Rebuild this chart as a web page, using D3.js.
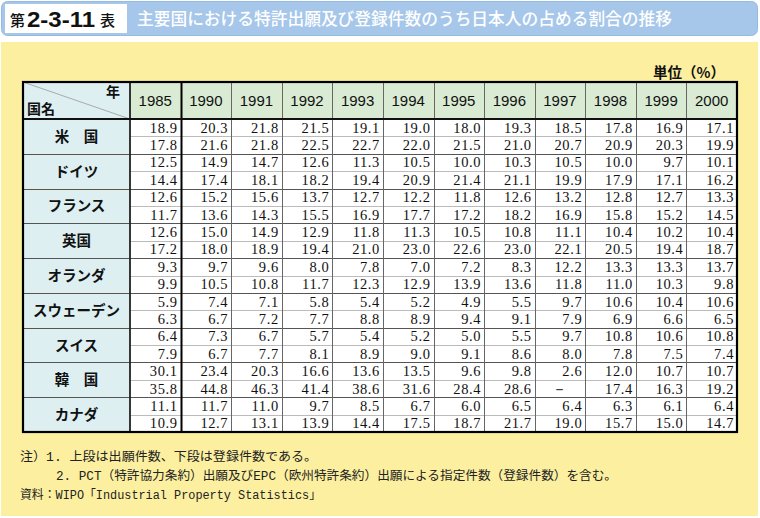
<!DOCTYPE html>
<html><head><meta charset="utf-8">
<script src="https://cdn.jsdelivr.net/npm/d3@7"></script>
<style>
body{margin:0;background:#fff;}
svg{display:block;}
</style></head>
<body>
<div id="chart"></div>
<script>
const years = ["1985","1990","1991","1992","1993","1994","1995","1996","1997","1998","1999","2000"];
const countries = ["米　国","ドイツ","フランス","英国","オランダ","スウェーデン","スイス","韓　国","カナダ"];
// 上段: 出願件数に占める日本人の割合 (%)
const applications = [
  [18.9,20.3,21.8,21.5,19.1,19.0,18.0,19.3,18.5,17.8,16.9,17.1],
  [12.5,14.9,14.7,12.6,11.3,10.5,10.0,10.3,10.5,10.0,9.7,10.1],
  [12.6,15.2,15.6,13.7,12.7,12.2,11.8,12.6,13.2,12.8,12.7,13.3],
  [12.6,15.0,14.9,12.9,11.8,11.3,10.5,10.8,11.1,10.4,10.2,10.4],
  [9.3,9.7,9.6,8.0,7.8,7.0,7.2,8.3,12.2,13.3,13.3,13.7],
  [5.9,7.4,7.1,5.8,5.4,5.2,4.9,5.5,9.7,10.6,10.4,10.6],
  [6.4,7.3,6.7,5.7,5.4,5.2,5.0,5.5,9.7,10.8,10.6,10.8],
  [30.1,23.4,20.3,16.6,13.6,13.5,9.6,9.8,2.6,12.0,10.7,10.7],
  [11.1,11.7,11.0,9.7,8.5,6.7,6.0,6.5,6.4,6.3,6.1,6.4]
];
// 下段: 登録件数に占める日本人の割合 (%)
const registrations = [
  [17.8,21.6,21.8,22.5,22.7,22.0,21.5,21.0,20.7,20.9,20.3,19.9],
  [14.4,17.4,18.1,18.2,19.4,20.9,21.4,21.1,19.9,17.9,17.1,16.2],
  [11.7,13.6,14.3,15.5,16.9,17.7,17.2,18.2,16.9,15.8,15.2,14.5],
  [17.2,18.0,18.9,19.4,21.0,23.0,22.6,23.0,22.1,20.5,19.4,18.7],
  [9.9,10.5,10.8,11.7,12.3,12.9,13.9,13.6,11.8,11.0,10.3,9.8],
  [6.3,6.7,7.2,7.7,8.8,8.9,9.4,9.1,7.9,6.9,6.6,6.5],
  [7.9,6.7,7.7,8.1,8.9,9.0,9.1,8.6,8.0,7.8,7.5,7.4],
  [35.8,44.8,46.3,41.4,38.6,31.6,28.4,28.6,null,17.4,16.3,19.2],
  [10.9,12.7,13.1,13.9,14.4,17.5,18.7,21.7,19.0,15.7,15.0,14.7]
];
const titleText = "主要国における特許出願及び登録件数のうち日本人の占める割合の推移";
const notes = [
  "注）1. 上段は出願件数、下段は登録件数である。",
  "2. PCT（特許協力条約）出願及びEPC（欧州特許条約）出願による指定件数（登録件数）を含む。",
  "資料：WIPO「Industrial Property Statistics」"
];

const W = 760, H = 518;
const svg = d3.select("#chart").append("svg").attr("width", W).attr("height", H);
const jp = "'Noto Sans CJK JP','Noto Sans',sans-serif";

// title bar
svg.append("rect").attr("x",1.5).attr("y",1.5).attr("width",756).attr("height",34).attr("rx",6)
  .attr("fill","#a6c7ea").attr("stroke","#96bbe2");
svg.append("rect").attr("x",5).attr("y",4).attr("width",122).attr("height",29).attr("fill","#fff");
const tb = svg.append("text").attr("y",26).attr("font-family",jp).attr("fill","#111");
tb.append("tspan").attr("x",10).attr("font-size",15).attr("font-weight",500).text("第");
svg.append("text").attr("x",27).attr("y",26.5).attr("font-size",22).attr("font-weight",700)
  .attr("font-family","'Liberation Sans',Arial,sans-serif").attr("fill","#111")
  .attr("textLength",68).attr("lengthAdjust","spacingAndGlyphs").text("2-3-11");
svg.append("text").attr("x",100).attr("y",26).attr("font-family",jp).attr("font-size",15).attr("font-weight",500).attr("fill","#111").text("表");
svg.append("text").attr("x",137).attr("y",25).attr("font-family",jp).attr("font-size",17)
  .attr("font-weight",500).attr("fill","#fff").attr("textLength",535).attr("lengthAdjust","spacingAndGlyphs").text(titleText);

// yellow panel
svg.append("rect").attr("x",1).attr("y",42).attr("width",757).attr("height",474).attr("fill","#fcf0a0");

// unit
svg.append("text").attr("x",725).attr("y",78).attr("text-anchor","end").attr("font-family",jp)
  .attr("font-size",14.5).attr("font-weight",700).attr("fill","#111").text("単位（%）");

// table geometry via scales
const tableLeft = 23, countryRight = 130, tableRight = 737;
const headTop = 82, headBottom = 119, tableBottom = 432;
const x = d3.scaleBand().domain(years).range([countryRight, tableRight]);
const rowIds = d3.range(countries.length * 2);
const y = d3.scaleBand().domain(rowIds).range([headBottom, tableBottom]);

const g = svg.append("g");
// header backgrounds
g.append("rect").attr("x",tableLeft).attr("y",headTop).attr("width",countryRight-tableLeft).attr("height",headBottom-headTop).attr("fill","#ddeff1");
g.selectAll("rect.yh").data(years).join("rect").attr("class","yh")
  .attr("x",d=>x(d)).attr("y",headTop).attr("width",x.bandwidth()).attr("height",headBottom-headTop).attr("fill","#d9ebd3");
// country cells
g.selectAll("rect.cc").data(countries).join("rect").attr("class","cc")
  .attr("x",tableLeft).attr("y",(d,i)=>y(i*2)).attr("width",countryRight-tableLeft).attr("height",y.bandwidth()*2).attr("fill","#ddeff1");
// data backgrounds
g.append("rect").attr("x",countryRight).attr("y",headBottom).attr("width",tableRight-countryRight).attr("height",tableBottom-headBottom).attr("fill","#fff");

// diagonal
g.append("line").attr("x1",tableLeft).attr("y1",headTop).attr("x2",countryRight).attr("y2",headBottom).attr("stroke","#999").attr("stroke-width",0.8);
g.append("text").attr("x",countryRight-10).attr("y",headTop+15).attr("text-anchor","end").attr("font-family",jp).attr("font-size",14).attr("font-weight",700).attr("fill","#111").text("年");
g.append("text").attr("x",tableLeft+4).attr("y",headBottom-5).attr("font-family",jp).attr("font-size",14).attr("font-weight",700).attr("fill","#111").text("国名");

// inner horizontal lines
rowIds.slice(1).forEach(r=>{
  const yy = Math.round(y(r))+0.5;
  const major = r % 2 === 0;
  g.append("line").attr("x1",major?tableLeft:countryRight).attr("x2",tableRight).attr("y1",yy).attr("y2",yy)
    .attr("stroke",major?"#555":"#aaa").attr("stroke-width",major?1:0.8);
});
// vertical lines between year columns
years.slice(1).forEach(yr=>{
  const xx = Math.round(x(yr))+0.5;
  const thick = yr === "1990";
  g.append("line").attr("x1",xx).attr("x2",xx).attr("y1",headTop).attr("y2",tableBottom)
    .attr("stroke",thick?"#000":"#666").attr("stroke-width",thick?2:1);
});
// country/year separator and header separator
g.append("line").attr("x1",countryRight).attr("x2",countryRight).attr("y1",headTop).attr("y2",tableBottom).attr("stroke","#222").attr("stroke-width",1.8);
g.append("line").attr("x1",tableLeft).attr("x2",tableRight).attr("y1",headBottom).attr("y2",headBottom).attr("stroke","#111").attr("stroke-width",1.8);
// outer frame
g.append("rect").attr("x",tableLeft).attr("y",headTop).attr("width",tableRight-tableLeft).attr("height",tableBottom-headTop)
  .attr("fill","none").attr("stroke","#000").attr("stroke-width",2.2);

// year headers
g.selectAll("text.yr").data(years).join("text").attr("class","yr")
  .attr("x",d=>x(d)+x.bandwidth()/2).attr("y",(headTop+headBottom)/2+5.5).attr("text-anchor","middle")
  .attr("font-family","'Liberation Sans',Arial,sans-serif").attr("font-size",15).attr("fill","#111").text(d=>d);

// country names
g.selectAll("text.cn").data(countries).join("text").attr("class","cn")
  .attr("x",(tableLeft+countryRight)/2).attr("y",(d,i)=>y(i*2)+y.bandwidth()+5.5).attr("text-anchor","middle")
  .attr("font-family",jp).attr("font-size",14.5).attr("font-weight",700).attr("fill","#111").text(d=>d);

// values
const cells = [];
countries.forEach((c,ci)=>{
  years.forEach((yr,yi)=>{
    cells.push({row:ci*2, yr, v:applications[ci][yi]});
    cells.push({row:ci*2+1, yr, v:registrations[ci][yi]});
  });
});
g.selectAll("text.val").data(cells).join("text").attr("class","val")
  .attr("x",d=>d.v===null ? x(d.yr)+x.bandwidth()/2 : x(d.yr)+x.bandwidth()-3)
  .attr("y",d=>y(d.row)+y.bandwidth()/2+5)
  .attr("text-anchor",d=>d.v===null?"middle":"end")
  .attr("font-family","'Liberation Serif','Times New Roman',serif").attr("font-size",14.5)
  .attr("letter-spacing",0.6).attr("fill","#111")
  .text(d=>d.v===null ? "－" : d3.format(".1f")(d.v));

// notes
const nf = "'Liberation Mono','Noto Sans CJK JP',monospace";
const noteY = [461, 480, 499], noteX = [20, 56, 20], noteLen = [297, 561, 301];
notes.forEach((t,i)=>{
  svg.append("text").attr("x",noteX[i]).attr("y",noteY[i]).attr("font-family",nf).attr("font-size",12.5)
    .attr("fill","#222").attr("textLength",noteLen[i]).attr("lengthAdjust","spacingAndGlyphs").text(t);
});
</script>
</body></html>
